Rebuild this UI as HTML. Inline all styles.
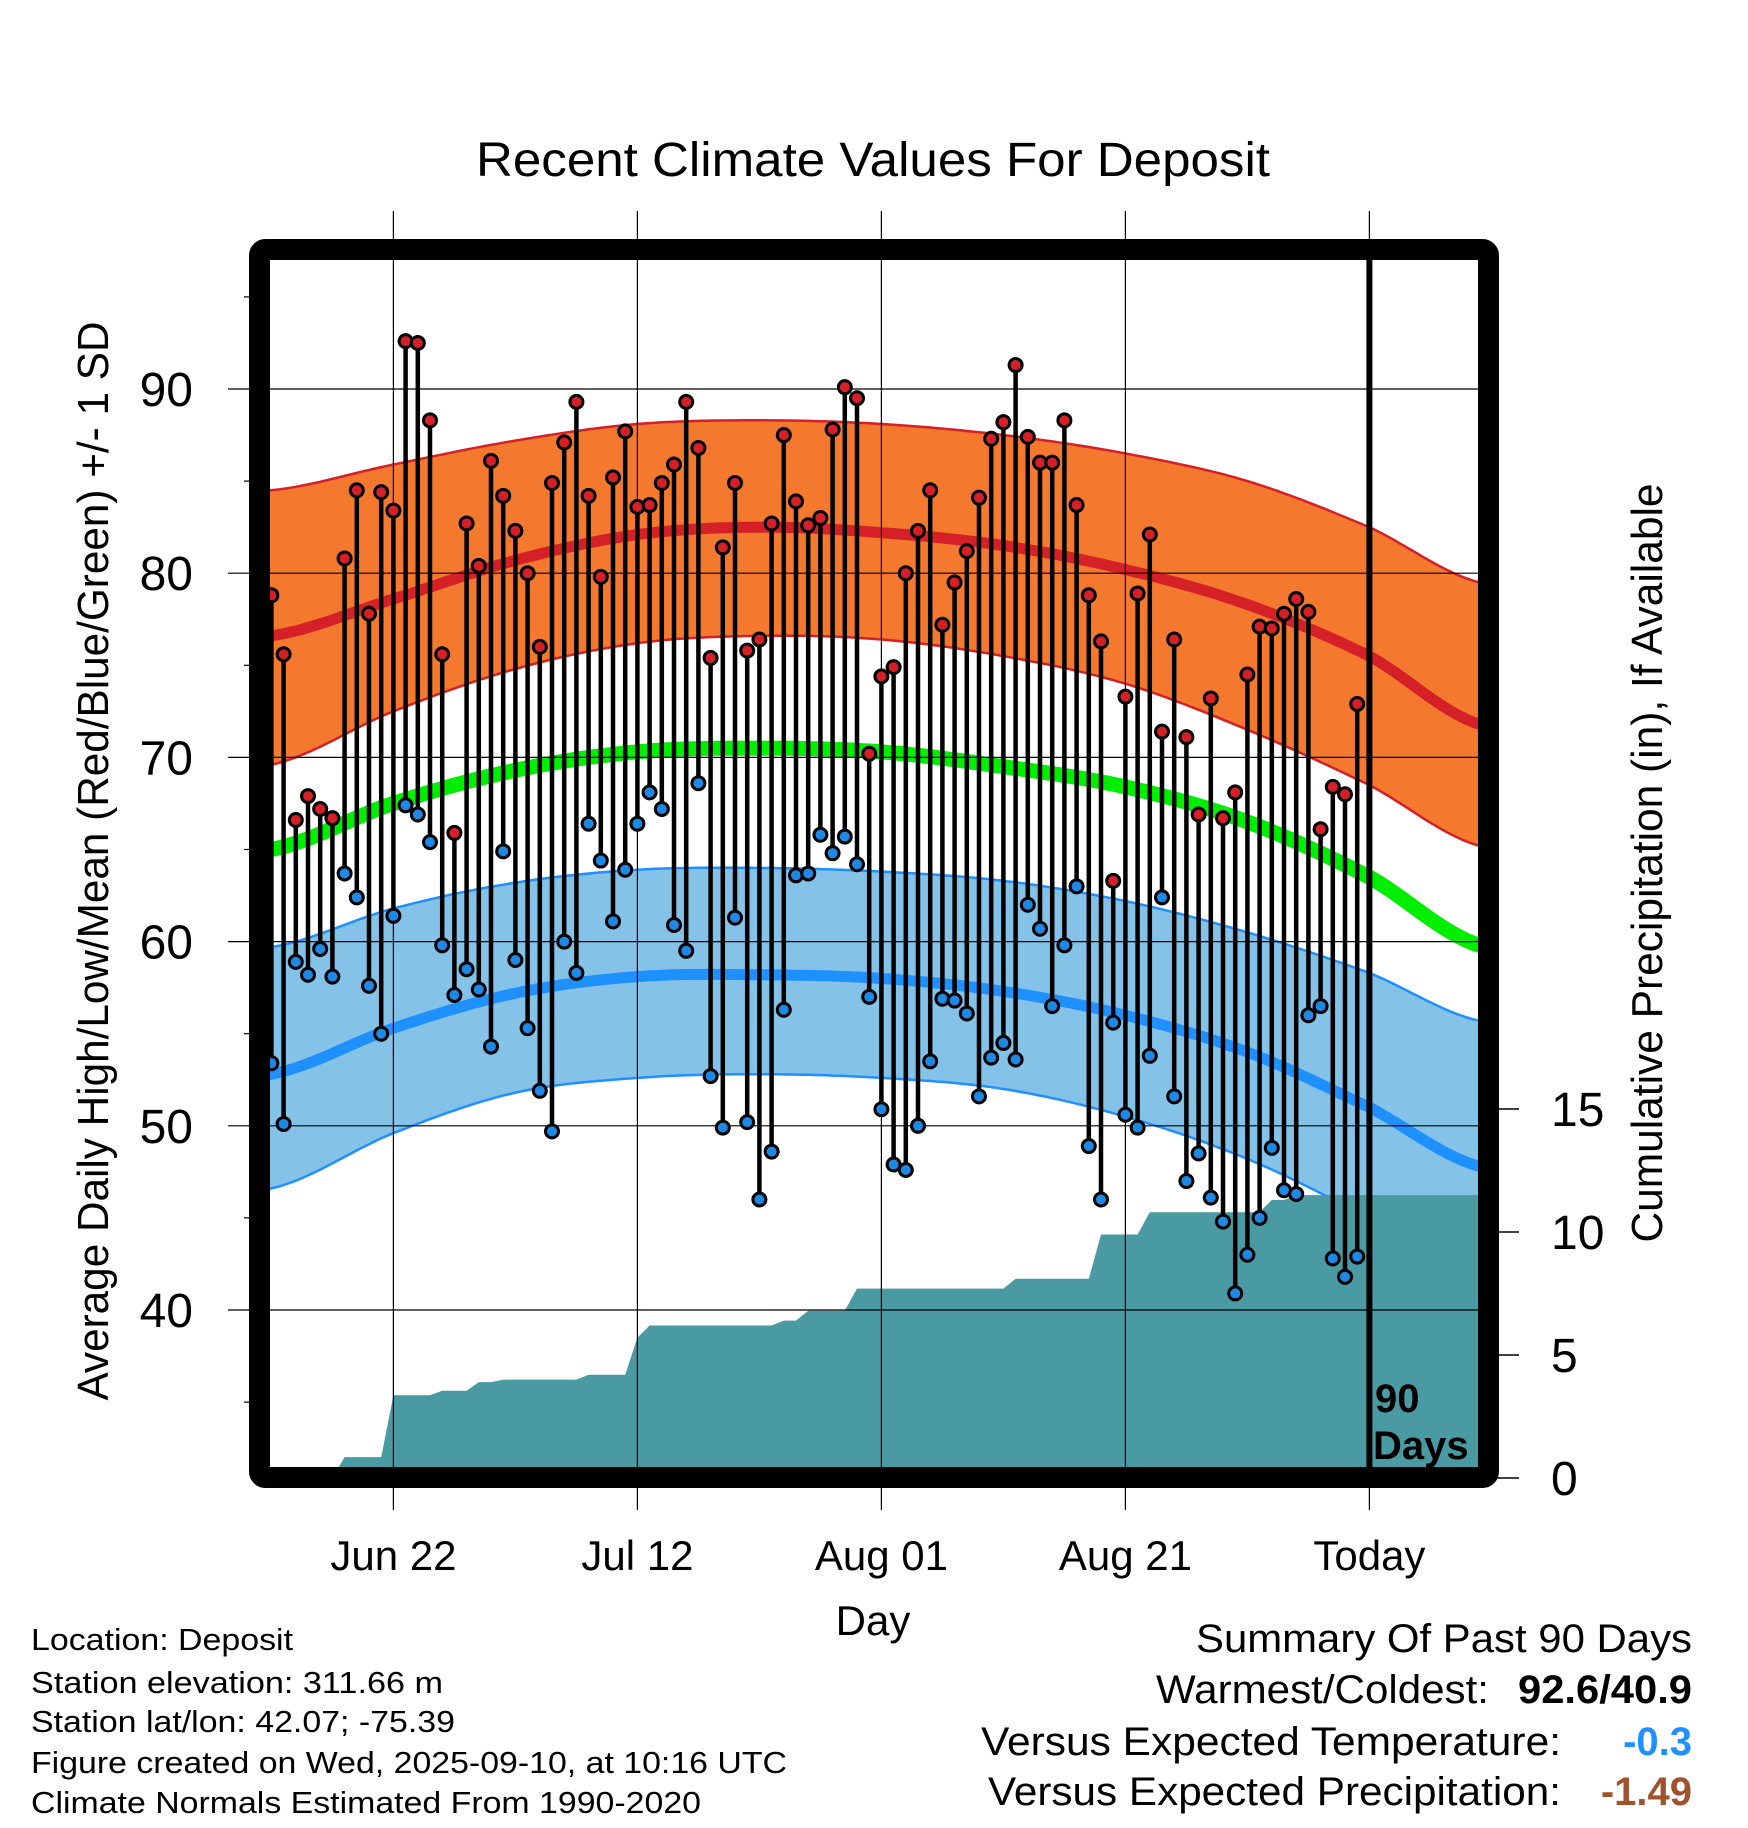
<!DOCTYPE html>
<html><head><meta charset="utf-8"><title>Recent Climate Values For Deposit</title>
<style>html,body{margin:0;padding:0;background:#fff}svg{display:block}text{font-family:"Liberation Sans",Arial,sans-serif}</style>
</head><body>
<svg id="chart" xmlns="http://www.w3.org/2000/svg" width="1748" height="1828" viewBox="0 0 1748 1828">
<defs><clipPath id="plotclip"><rect x="270" y="260" width="1208" height="1208"/></clipPath></defs>
<rect width="1748" height="1828" fill="#fff"/>
<text x="873" y="176" font-size="48" text-anchor="middle" textLength="794" lengthAdjust="spacingAndGlyphs">Recent Climate Values For Deposit</text>
<g id="plot" clip-path="url(#plotclip)"></g>
<g id="over"></g>
<text transform="translate(108,861) rotate(-90)" font-size="44" text-anchor="middle" textLength="1079" lengthAdjust="spacingAndGlyphs">Average Daily High/Low/Mean (Red/Blue/Green) +/- 1 SD</text>
<text transform="translate(1662,863) rotate(-90)" font-size="44" text-anchor="middle" textLength="759" lengthAdjust="spacingAndGlyphs">Cumulative Precipitation (in), If Available</text>
<text x="873" y="1635" font-size="42" text-anchor="middle">Day</text>
<g font-size="31">
<text x="31" y="1650" textLength="262" lengthAdjust="spacingAndGlyphs">Location: Deposit</text>
<text x="31" y="1693" textLength="412" lengthAdjust="spacingAndGlyphs">Station elevation: 311.66 m</text>
<text x="31" y="1732" textLength="424" lengthAdjust="spacingAndGlyphs">Station lat/lon: 42.07; -75.39</text>
<text x="31" y="1773" textLength="756" lengthAdjust="spacingAndGlyphs">Figure created on Wed, 2025-09-10, at 10:16 UTC</text>
<text x="31" y="1813" textLength="670" lengthAdjust="spacingAndGlyphs">Climate Normals Estimated From 1990-2020</text>
</g>
<g font-size="40">
<text x="1196" y="1652" textLength="496" lengthAdjust="spacingAndGlyphs">Summary Of Past 90 Days</text>
<text x="1156" y="1703" textLength="333" lengthAdjust="spacingAndGlyphs">Warmest/Coldest:</text>
<text x="1518" y="1703" font-weight="bold" textLength="174" lengthAdjust="spacingAndGlyphs">92.6/40.9</text>
<text x="981" y="1755" textLength="580" lengthAdjust="spacingAndGlyphs">Versus Expected Temperature:</text>
<text x="1692" y="1755" font-weight="bold" fill="#1e90ff" text-anchor="end">-0.3</text>
<text x="988" y="1805" textLength="573" lengthAdjust="spacingAndGlyphs">Versus Expected Precipitation:</text>
<text x="1692" y="1805" font-weight="bold" fill="#a0522d" text-anchor="end">-1.49</text>
</g>
</svg>
<script>
const highs=[78.8,75.6,66.6,67.9,67.2,66.7,80.8,84.5,77.8,84.4,83.4,92.6,92.5,88.3,75.6,65.9,82.7,80.4,86.1,84.2,82.3,80.0,76.0,84.9,87.1,89.3,84.2,79.8,85.2,87.7,83.6,83.7,84.9,85.9,89.3,86.8,75.4,81.4,84.9,75.8,76.4,82.7,87.5,83.9,82.6,83.0,87.8,90.1,89.5,70.2,74.4,74.9,80.0,82.3,84.5,77.2,79.5,81.2,84.1,87.3,88.2,91.3,87.4,86.0,86.0,88.3,83.7,78.8,76.3,63.3,73.3,78.9,82.1,71.4,76.4,71.1,66.9,73.2,66.7,68.1,74.5,77.1,77.0,77.8,78.6,77.9,66.1,68.4,68.0,72.9];
const lows=[53.4,50.1,58.9,58.2,59.6,58.1,63.7,62.4,57.6,55.0,61.4,67.4,66.9,65.4,59.8,57.1,58.5,57.4,54.3,64.9,59.0,55.3,51.9,49.7,60.0,58.3,66.4,64.4,61.1,63.9,66.4,68.1,67.2,60.9,59.5,68.6,52.7,49.9,61.3,50.2,46.0,48.6,56.3,63.6,63.7,65.8,64.8,65.7,64.2,57.0,50.9,47.9,47.6,50.0,53.5,56.9,56.8,56.1,51.6,53.7,54.5,53.6,62.0,60.7,56.5,59.8,63.0,48.9,46.0,55.6,50.6,49.9,53.8,62.4,51.6,47.0,48.5,46.1,44.8,40.9,43.0,45.0,48.8,46.5,46.3,56.0,56.5,42.8,41.8,42.9];
const precip=[0,0,0,0,0,0,0.85,0.85,0.85,0.85,3.36,3.36,3.36,3.36,3.55,3.55,3.55,3.9,3.9,4.0,4.0,4.0,4.0,4.0,4.0,4.0,4.2,4.2,4.2,4.2,5.7,6.2,6.2,6.2,6.2,6.2,6.2,6.2,6.2,6.2,6.2,6.2,6.4,6.4,6.8,6.8,6.8,6.8,7.7,7.7,7.7,7.7,7.7,7.7,7.7,7.7,7.7,7.7,7.7,7.7,7.7,8.1,8.1,8.1,8.1,8.1,8.1,8.1,9.9,9.9,9.9,9.9,10.8,10.8,10.8,10.8,10.8,10.8,10.8,10.8,10.8,10.8,11.3,11.3,11.5,11.5,11.5,11.5,11.5,11.5];
const normDays=[-10,0,10,20,30,40,50,60,70,80,89];
const hiUpper=[84.5,85.9,87.2,88.1,88.3,88.1,87.5,86.5,85.0,82.5,79.5];
const hiMean=[76.6,78.6,80.7,82.1,82.5,82.2,81.5,80.2,78.3,75.5,71.8];
const hiLower=[69.6,72.5,74.8,76.2,76.6,76.4,75.5,74.0,71.5,68.5,65.2];
const avgMean=[65.0,67.5,69.3,70.3,70.5,70.3,69.5,68.4,66.5,63.5,59.8];
const loUpper=[59.7,61.8,63.2,63.9,64.0,63.8,63.3,62.2,60.5,58.3,55.7];
const loMean=[52.8,55.3,57.2,58.1,58.2,58.0,57.3,56.0,54.0,51.0,47.8];
const loLower=[46.6,49.6,51.8,52.6,52.8,52.6,52.0,50.5,48.2,45.0,41.5];
const yTicks=[40,50,60,70,80,90];
const y2Ticks=[0,5,10,15];
const xTickDays=[0,20,40,60,80];
const xTickLabels=["Jun 22","Jul 12","Aug 01","Aug 21","Today"];

const NS="http://www.w3.org/2000/svg";
const X0=393.4, DX=12.2, firstDay=-10;
function xs(d){return X0+d*DX;}
function ys(t){return 389+(90-t)*18.42;}
function yp(p){return 1478-p*24.6;}
function mk(tag,attrs,parent){const e=document.createElementNS(NS,tag);for(const k in attrs)e.setAttribute(k,attrs[k]);parent.appendChild(e);return e;}
function curvePts(vals){const pts=[];for(let d=-11;d<=90;d+=0.5){let i=0;while(i<normDays.length-2&&d>normDays[i+1])i++;
 const p0=vals[Math.max(i-1,0)],p1=vals[i],p2=vals[i+1],p3=vals[Math.min(i+2,vals.length-1)];
 const t=(d-normDays[i])/(normDays[i+1]-normDays[i]);
 const v=0.5*((2*p1)+(-p0+p2)*t+(2*p0-5*p1+4*p2-p3)*t*t+(-p0+3*p1-3*p2+p3)*t*t*t);
 pts.push([xs(d),ys(v)]);}return pts;}
function pstr(p){return p.map((q,i)=>(i?'L':'M')+q[0].toFixed(1)+','+q[1].toFixed(1)).join('');}
const plot=document.getElementById('plot'), over=document.getElementById('over'), svg=document.getElementById('chart');

function band(up,lo,fill,edge,name){const a=curvePts(up),b=curvePts(lo).reverse();
 const f=mk('path',{d:pstr(a)+pstr(b).replace('M','L')+'Z',fill:fill},plot);
 
 
 const e1=mk('path',{d:pstr(curvePts(up)),fill:'none',stroke:edge,'stroke-width':2.5},plot);
 
 
 const e2=mk('path',{d:pstr(curvePts(lo)),fill:'none',stroke:edge,'stroke-width':2.5},plot);
 
 }
band(hiUpper,hiLower,'#f4792e','#d42026','high-sd-band');
band(loUpper,loLower,'#84c2e8','#1e90ff','low-sd-band');
let l=mk('path',{d:pstr(curvePts(hiMean)),fill:'none',stroke:'#d42026','stroke-width':11},plot);


l=mk('path',{d:pstr(curvePts(avgMean)),fill:'none',stroke:'#00ee00','stroke-width':15},plot);


l=mk('path',{d:pstr(curvePts(loMean)),fill:'none',stroke:'#1e90ff','stroke-width':11},plot);



let pp=[[xs(firstDay-1),yp(0)]];
precip.forEach((v,i)=>pp.push([xs(firstDay+i),yp(v)]));
pp.push([1490,yp(precip[precip.length-1])]);pp.push([1490,yp(0)+5]);pp.push([xs(firstDay-1),yp(0)+5]);
const pa=mk('path',{d:pstr(pp)+'Z',fill:'#4a9aa3'},plot);



yTicks.forEach(t=>{const g=mk('line',{x1:228,x2:1490,y1:ys(t),y2:ys(t),stroke:'#000','stroke-width':1.2},over);
 
 
 const tx=mk('text',{x:193,y:ys(t)+17,'font-size':48,'text-anchor':'end'},svg);tx.textContent=t;
 
 });
[35,45,55,65,75,85,95].forEach(t=>{const m=mk('line',{x1:244,x2:252,y1:ys(t),y2:ys(t),stroke:'#000','stroke-width':1.2},over);
 
 });
xTickDays.forEach((d,i)=>{const g=mk('line',{x1:xs(d),x2:xs(d),y1:211,y2:1510,stroke:'#000','stroke-width':1.2},over);
 
 
 const tx=mk('text',{x:xs(d),y:1570,'font-size':42,'text-anchor':'middle'},svg);tx.textContent=xTickLabels[i];
 
 });
y2Ticks.forEach(p=>{const g=mk('line',{x1:1490,x2:1519,y1:yp(p),y2:yp(p),stroke:'#000','stroke-width':1.5},over);
 
 
 const tx=mk('text',{x:1551,y:yp(p)+17,'font-size':48},svg);tx.textContent=p;
 
 });

const dots=mk('g',{},over);


highs.forEach((h,i)=>{const x=xs(firstDay+i);
 const s=mk('line',{x1:x,x2:x,y1:ys(h),y2:ys(lows[i]),stroke:'#000','stroke-width':4.5},dots);
 
 });
highs.forEach((h,i)=>{const x=xs(firstDay+i);
 const c1=mk('circle',{cx:x,cy:ys(h),r:6.5,fill:'#d42026',stroke:'#000','stroke-width':3},dots);
 
 
 const c2=mk('circle',{cx:x,cy:ys(lows[i]),r:6.5,fill:'#1e88e5',stroke:'#000','stroke-width':3},dots);
 
 });

const tl=mk('line',{x1:xs(80),x2:xs(80),y1:255,y2:1470,stroke:'#000','stroke-width':6},over);


const t1=mk('text',{x:1375,y:1412,'font-size':40,'font-weight':'bold'},over);t1.textContent='90';


const t2=mk('text',{x:1373,y:1459,'font-size':40,'font-weight':'bold'},over);t2.textContent='Days';



const fr=mk('rect',{x:259.5,y:249.5,width:1229,height:1228,rx:6,fill:'none',stroke:'#000','stroke-width':21},over);


</script>
</body></html>
